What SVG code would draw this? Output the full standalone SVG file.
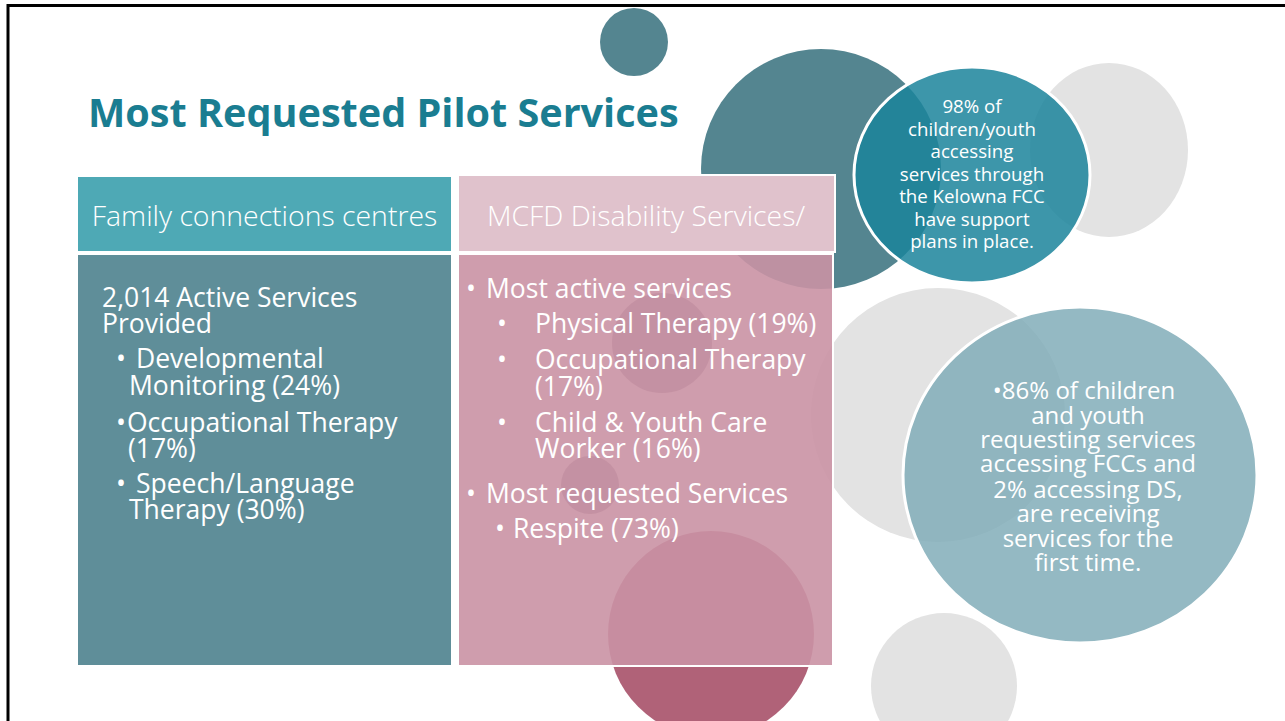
<svg xmlns="http://www.w3.org/2000/svg" width="1285" height="721" viewBox="0 0 1285 721">
<style>
.t{font-family:"Open Sans","Liberation Sans",sans-serif;fill:#fff}
.title{font-family:"Open Sans","Liberation Sans",sans-serif;font-weight:700;font-size:39.6px;fill:#1A7D91}
.hd{font-size:28.4px;font-weight:300;text-anchor:middle}
.bd{font-size:26.5px}
.c98{font-size:18.7px;text-anchor:middle}
.c86{font-size:24px;text-anchor:middle}
.teal{fill:#548590}
.gray{fill:#E3E3E3}
.box{stroke:#fff;stroke-width:2}
</style>
<rect width="1285" height="721" fill="#fff"/>
<path d="M8,721 V5.5 H1285" fill="none" stroke="#000" stroke-width="3"/>
<g id="bg-circles">
<circle class="teal" cx="634" cy="42" r="34"/>
<circle class="teal" cx="821" cy="169" r="120"/>
<ellipse class="gray" cx="1109" cy="150" rx="79" ry="87"/>
<circle class="gray" cx="938" cy="415" r="127"/>
<circle class="gray" cx="944" cy="686" r="73"/>
<circle cx="711" cy="634" r="103" fill="#B06278"/>
</g>
<text class="title" x="88" y="127">Most Requested Pilot Services</text>
<g id="fcc">
<rect class="box" x="77" y="176" width="375" height="76" fill="#4EA9B5"/>
<text class="t hd" x="264.5" y="226">Family connections centres</text>
<rect class="box" x="77" y="254" width="375" height="412" fill="#5F8E99"/>
<g class="t bd">
<text x="102" y="307">2,014 Active Services</text>
<text x="102" y="333">Provided</text>
<text y="368"><tspan x="116">•</tspan><tspan x="136">Developmental</tspan></text>
<text x="129" y="395">Monitoring (24%)</text>
<text y="432"><tspan x="116">•</tspan><tspan x="127">Occupational Therapy</tspan></text>
<text x="128" y="458">(17%)</text>
<text y="493"><tspan x="116">•</tspan><tspan x="136">Speech/Language</tspan></text>
<text x="129" y="519">Therapy (30%)</text>
</g>
</g>
<g id="mcfd">
<rect class="box" x="458" y="175" width="377" height="77" fill="#E0C2CC"/>
<text class="t hd" x="646" y="226">MCFD Disability Services/</text>
<rect class="box" x="458" y="254" width="375" height="412" fill="rgb(202,146,164)" fill-opacity="0.9"/>
<circle cx="662" cy="343" r="50" fill="#A0687E" fill-opacity="0.22"/>
<circle cx="590" cy="485" r="29" fill="#A0687E" fill-opacity="0.22"/>
<g class="t bd">
<text y="298"><tspan x="466">•</tspan><tspan x="486">Most active services</tspan></text>
<text y="333"><tspan x="497">•</tspan><tspan x="535">Physical Therapy (19%)</tspan></text>
<text y="369"><tspan x="497">•</tspan><tspan x="535">Occupational Therapy</tspan></text>
<text x="535" y="396">(17%)</text>
<text y="432"><tspan x="497">•</tspan><tspan x="535">Child &amp; Youth Care</tspan></text>
<text x="535" y="458">Worker (16%)</text>
<text y="503"><tspan x="466">•</tspan><tspan x="486">Most requested Services</tspan></text>
<text y="538"><tspan x="495">•</tspan><tspan x="513">Respite (73%)</tspan></text>
</g>
</g>
<g id="stat98">
<ellipse cx="972" cy="175" rx="118" ry="108" fill="rgb(27,132,155)" fill-opacity="0.85" stroke="#fff" stroke-width="3"/>
<g class="t c98">
<text x="972" y="113">98% of</text>
<text x="972" y="135.5">children/youth</text>
<text x="972" y="158">accessing</text>
<text x="972" y="180.5">services through</text>
<text x="972" y="203">the Kelowna FCC</text>
<text x="972" y="225.5">have support</text>
<text x="972" y="248">plans in place.</text>
</g>
</g>
<g id="stat86">
<ellipse cx="1080" cy="475" rx="177" ry="168" fill="rgb(126,171,183)" fill-opacity="0.83" stroke="#fff" stroke-width="3"/>
<g class="t c86">
<text x="1084" y="399">•86% of children</text>
<text x="1088" y="424">and youth</text>
<text x="1088" y="448">requesting services</text>
<text x="1088" y="472">accessing FCCs and</text>
<text x="1088" y="498">2% accessing DS,</text>
<text x="1088" y="522">are receiving</text>
<text x="1088" y="547">services for the</text>
<text x="1088" y="571">first time.</text>
</g>
</g>
<g id="connectors"/>
</svg>
